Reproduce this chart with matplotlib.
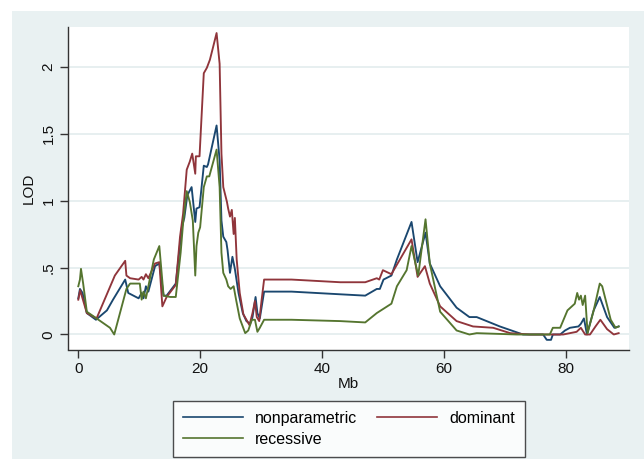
import matplotlib
matplotlib.use("Agg")
import matplotlib.pyplot as plt
from matplotlib.patches import Rectangle

# ---- data ----
np_x = [0, 0.27, 0.7, 1.4, 2.9, 4.7, 5.7, 7.7, 8.2, 9.9, 10.4, 10.7, 11.1, 11.5, 12.6, 13.3,
        14.0, 14.5, 16.0, 17.0, 17.4, 17.9, 18.6, 19.2, 19.4, 19.9, 20.6, 21.1, 21.3, 22.7,
        23.2, 23.5, 23.8, 24.3, 24.5, 24.9, 25.3, 25.7, 26.3, 27.0, 27.6, 28.2, 28.6, 29.1,
        29.4, 29.8, 30.5, 35.0, 43.0, 47.1, 49.0, 49.5, 50.1, 51.4, 52.3, 54.7, 55.7, 57.0,
        57.7, 59.4, 62.1, 64.2, 65.4, 69.2, 73.0, 76.3, 76.9, 77.6, 77.9, 79.1, 79.9, 80.7,
        82.1, 82.5, 83.0, 83.5, 84.6, 85.6, 86.8, 88.0, 88.7]
np_y = [0.27, 0.34, 0.31, 0.16, 0.11, 0.18, 0.26, 0.41, 0.31, 0.27, 0.31, 0.27, 0.36, 0.32, 0.51, 0.53,
        0.29, 0.29, 0.38, 0.80, 0.87, 1.04, 1.10, 0.84, 0.94, 0.95, 1.26, 1.25, 1.27, 1.56,
        1.30, 0.85, 0.73, 0.69, 0.63, 0.46, 0.58, 0.49, 0.31, 0.16, 0.10, 0.08, 0.13, 0.28,
        0.16, 0.12, 0.32, 0.32, 0.30, 0.29, 0.34, 0.34, 0.41, 0.44, 0.56, 0.84, 0.54, 0.76,
        0.53, 0.36, 0.20, 0.13, 0.13, 0.06, 0.00, 0.00, -0.04, -0.04, 0.00, 0.00, 0.03, 0.05,
        0.06, 0.08, 0.12, 0.00, 0.18, 0.28, 0.13, 0.05, 0.06]

dom_x = [0, 0.3, 0.5, 1.4, 3.0, 6.0, 7.7, 7.9, 8.5, 9.9, 10.4, 10.7, 11.1, 11.5, 12.6, 13.3, 13.8,
         14.5, 16.0, 16.7, 17.2, 17.8, 18.3, 18.7, 19.2, 19.3, 19.9, 20.6, 21.1, 21.6, 22.1, 22.7,
         23.2, 23.5, 23.8, 24.4, 24.6, 24.9, 25.2, 25.5, 25.7, 26.0, 26.5, 27.1, 27.6, 28.1,
         28.6, 29.0, 29.3, 29.7, 30.1, 30.5, 35.0, 43.0, 47.1, 49.0, 49.4, 50.0, 51.4, 54.7,
         55.7, 56.9, 57.7, 59.4, 62.1, 64.8, 68.1, 70.9, 74.1, 79.6, 81.8, 82.5, 83.2, 84.0,
         84.9, 85.7, 86.8, 87.9, 88.7]
dom_y = [0.26, 0.33, 0.30, 0.16, 0.12, 0.44, 0.55, 0.44, 0.42, 0.41, 0.43, 0.41, 0.45, 0.42, 0.53, 0.54, 0.21,
         0.28, 0.37, 0.73, 0.90, 1.23, 1.29, 1.35, 1.20, 1.33, 1.33, 1.95, 1.99, 2.05, 2.14, 2.25,
         2.02, 1.35, 1.10, 0.99, 0.94, 0.88, 0.93, 0.75, 0.87, 0.56, 0.31, 0.15, 0.11, 0.07,
         0.16, 0.25, 0.13, 0.10, 0.26, 0.41, 0.41, 0.39, 0.39, 0.42, 0.41, 0.48, 0.45, 0.71,
         0.43, 0.51, 0.38, 0.21, 0.10, 0.06, 0.05, 0.01, 0.00, 0.00, 0.02, 0.05, 0.00, 0.00,
         0.06, 0.11, 0.04, 0.00, 0.01]

rec_x = [0, 0.27, 0.44, 0.8, 1.4, 3.0, 5.2, 5.9, 7.9, 8.5, 10.1, 10.4, 10.7, 11.1, 11.5, 12.4,
         13.3, 14.0, 15.1, 16.0, 16.8, 17.2, 17.8, 18.3, 18.8, 19.2, 19.4, 19.7, 20.0, 20.6,
         21.1, 21.5, 22.7, 23.2, 23.5, 23.8, 24.3, 24.6, 25.0, 25.5, 25.9, 26.5, 27.4, 27.9,
         28.5, 29.0, 29.4, 29.8, 30.5, 35.0, 43.0, 47.1, 49.0, 51.4, 52.3, 53.9, 54.7, 55.8,
         57.0, 57.7, 59.4, 62.1, 64.2, 65.4, 72.0, 77.4, 77.9, 79.1, 80.3, 81.5, 81.9, 82.2,
         82.5, 82.8, 83.2, 83.6, 84.6, 85.0, 85.6, 86.0, 87.4, 88.2, 88.7]
rec_y = [0.36, 0.41, 0.49, 0.38, 0.17, 0.12, 0.05, 0.00, 0.34, 0.38, 0.38, 0.26, 0.32, 0.27, 0.36, 0.56,
         0.66, 0.29, 0.28, 0.28, 0.61, 0.83, 1.07, 0.99, 0.85, 0.44, 0.66, 0.76, 0.80, 1.10,
         1.18, 1.18, 1.38, 1.10, 0.61, 0.46, 0.41, 0.36, 0.34, 0.36, 0.26, 0.12, 0.01, 0.03,
         0.11, 0.11, 0.02, 0.05, 0.11, 0.11, 0.10, 0.09, 0.16, 0.23, 0.36, 0.48, 0.66, 0.44,
         0.86, 0.53, 0.17, 0.03, 0.00, 0.01, 0.00, 0.00, 0.05, 0.05, 0.18, 0.23, 0.31, 0.26,
         0.29, 0.22, 0.29, 0.01, 0.18, 0.26, 0.38, 0.36, 0.11, 0.05, 0.06]

series_labels = ["nonparametric", "dominant", "recessive"]
x_ticks = [0, 20, 40, 60, 80]
y_ticks = [0, 0.5, 1, 1.5, 2]
y_tick_labels = ["0", ".5", "1", "1.5", "2"]

# ---- style ----
plt.rcParams['font.family'] = ['Liberation Sans', 'DejaVu Sans']
BG = "#E9F1F2"
GRID = "#E3ECEE"
C_NP = "#1A476F"
C_DOM = "#90353B"
C_REC = "#55752F"
LW = 1.35

W, H = 644, 459
fig = plt.figure(figsize=(W / 100, H / 100), dpi=100)
fig.patch.set_facecolor("white")
fig.add_artist(Rectangle((12 / W, 0), 1 - 12 / W, 1 - 11 / H, transform=fig.transFigure,
                         facecolor=BG, edgecolor="none", zorder=0))

ax = fig.add_axes([68 / W, 1 - 349.5 / H, (629 - 68) / W, (349.5 - 27) / H])
ax.set_facecolor("white")
ax.set_zorder(1)

l_np, = ax.plot(np_x, np_y, color=C_NP, lw=LW, label=series_labels[0], zorder=3)
l_dom, = ax.plot(dom_x, dom_y, color=C_DOM, lw=LW, label=series_labels[1], zorder=3)
l_rec, = ax.plot(rec_x, rec_y, color=C_REC, lw=LW, label=series_labels[2], zorder=3)

ax.set_xlim(-1.69, 90.4)
ax.set_ylim(-0.112, 2.295)
ax.set_xticks(x_ticks)
ax.set_yticks(y_ticks)
ax.set_yticklabels(y_tick_labels, rotation=90, va="center")
ax.grid(axis="y", color=GRID, lw=1.2, zorder=1)
ax.set_axisbelow(True)

for s in ["top", "right"]:
    ax.spines[s].set_visible(False)
for s in ["left", "bottom"]:
    ax.spines[s].set_color("#333333")
    ax.spines[s].set_linewidth(1.0)
ax.tick_params(axis="both", direction="out", length=6, width=1.0, color="#333333",
               labelsize=11, labelcolor="#111111", pad=3)

ax.set_xlabel("Mb", fontsize=11, color="#111111", labelpad=1)
ax.set_ylabel("LOD", fontsize=11, color="#111111", labelpad=4)

# column-major fill: col 1 = nonparametric, recessive; col 2 = dominant
leg = fig.legend([l_np, l_rec, l_dom], [series_labels[0], series_labels[2], series_labels[1]],
                 loc="upper left", bbox_to_anchor=(173 / W, 1 - 401 / H),
                 ncol=2, fontsize=11.5, frameon=True, fancybox=False,
                 handlelength=3.8, handletextpad=0.75, borderaxespad=0, labelspacing=0.4,
                 borderpad=0.6, columnspacing=1.2)
leg.get_frame().set_edgecolor("#222222")
leg.get_frame().set_linewidth(1.0)
leg.get_frame().set_facecolor("white")
for l in leg.get_lines():
    l.set_linewidth(1.2)

fig.savefig("out.png", dpi=100)
